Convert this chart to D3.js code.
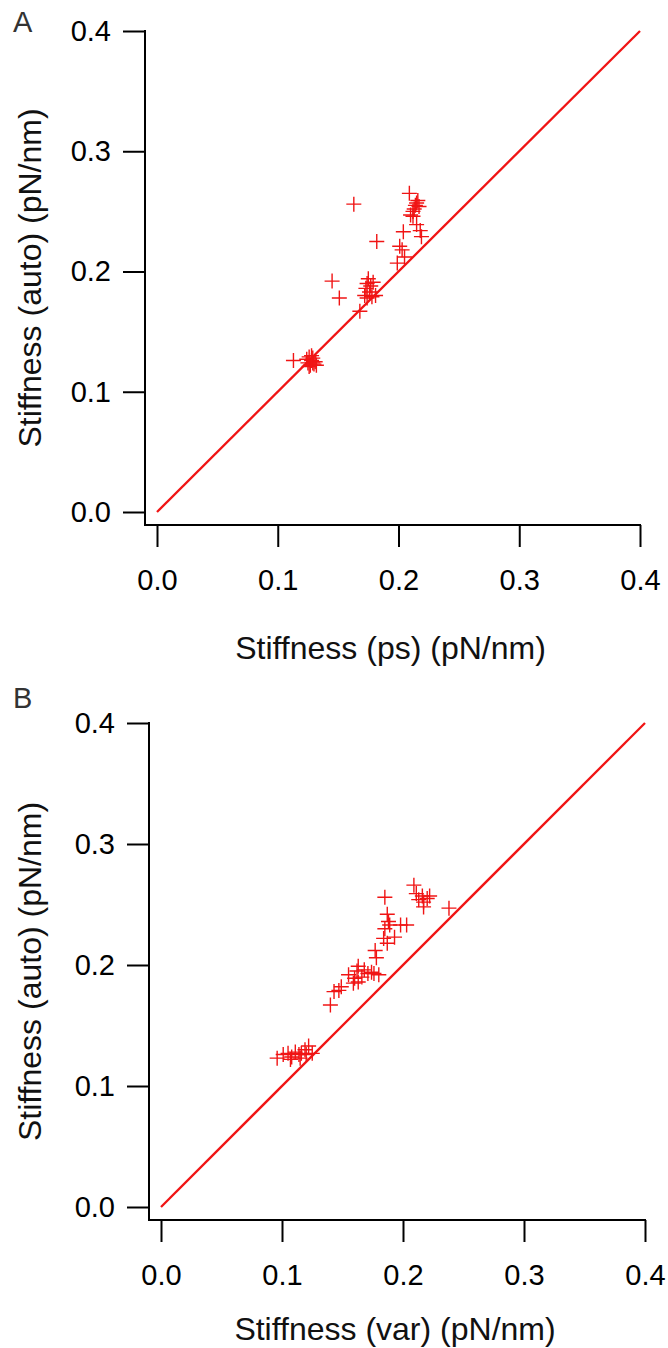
<!DOCTYPE html>
<html>
<head>
<meta charset="utf-8">
<script src="https://cdn.jsdelivr.net/npm/d3@7"></script>
<style>
  body { margin: 0; background: #fff; }
  svg text { font-family: "Liberation Sans", Arial, sans-serif; }
</style>
</head>
<body>
<svg id="chart" width="668" height="1348"></svg>
<script>
var width = 668, height = 1348;

// panel A : ps vs auto
var psX = [0.113,0.124,0.125,0.126,0.127,0.128,0.129,0.130,0.128,0.131,0.132,0.126,0.129,
  0.145,0.151,0.163,0.168,
  0.172,0.173,0.174,0.175,0.176,0.177,0.178,0.174,0.179,0.181,
  0.182,0.199,0.201,0.203,0.205,0.204,
  0.209,0.210,0.212,0.213,0.214,0.215,0.216,0.217,0.215,0.218,0.219,0.212];
var psY = [0.126,0.127,0.124,0.129,0.122,0.126,0.128,0.123,0.130,0.125,0.122,0.121,0.124,
  0.192,0.178,0.256,0.167,
  0.180,0.186,0.190,0.194,0.183,0.188,0.179,0.178,0.191,0.180,
  0.225,0.207,0.221,0.218,0.212,0.233,
  0.265,0.247,0.246,0.252,0.255,0.257,0.259,0.254,0.239,0.234,0.229,0.250];

// panel B : var vs auto
var varX = [0.096,0.101,0.105,0.108,0.111,0.114,0.116,0.119,0.122,0.120,0.107,0.115,0.125,
  0.140,0.143,0.147,0.149,0.155,0.159,0.160,0.163,0.163,0.166,0.171,0.174,0.180,
  0.162,0.168,0.176,0.178,0.177,0.184,0.187,0.193,
  0.185,0.189,0.188,0.187,0.198,0.203,
  0.185,0.209,0.211,0.216,0.220,0.217,0.213,0.217,0.222,0.238];
var varY = [0.123,0.126,0.127,0.124,0.128,0.126,0.127,0.130,0.133,0.126,0.122,0.123,0.127,
  0.167,0.178,0.179,0.182,0.192,0.185,0.189,0.199,0.186,0.190,0.193,0.194,0.192,
  0.195,0.196,0.193,0.206,0.212,0.222,0.218,0.223,
  0.230,0.233,0.236,0.242,0.233,0.233,
  0.256,0.266,0.259,0.257,0.255,0.252,0.254,0.248,0.257,0.247];

var tickValues = [0.0, 0.1, 0.2, 0.3, 0.4];
var tickLabels = ["0.0", "0.1", "0.2", "0.3", "0.4"];

var svg = d3.select("#chart");
var red = "#f01414";

function drawPanel(xs, ys, opt) {
  var g = svg.append("g");

  var x = d3.scaleLinear().domain([0, 0.4]).range([opt.left, opt.right]);
  var y = d3.scaleLinear().domain([0, 0.4]).range([opt.bottom, opt.top]);
  var axisX = opt.left - 12,   // y axis line sits a bit left of 0
      axisY = opt.bottom + 13; // x axis line sits a bit below 0

  // y axis
  var yAxis = d3.axisLeft(y).tickValues(tickValues)
      .tickFormat(function(d, i) { return tickLabels[i]; })
      .tickSize(22).tickSizeOuter(0).tickPadding(12);
  var yg = g.append("g").attr("transform", "translate(" + axisX + ",0)").call(yAxis);
  yg.select(".domain").remove();
  yg.selectAll("line").attr("stroke", "#000").attr("stroke-width", 2);
  yg.selectAll("text").style("font-size", "29px").attr("fill", "#000");
  g.append("line")
    .attr("x1", axisX).attr("x2", axisX)
    .attr("y1", y(0.4) - 1).attr("y2", axisY + 1)
    .attr("stroke", "#000").attr("stroke-width", 2);

  // x axis
  var xAxis = d3.axisBottom(x).tickValues(tickValues)
      .tickFormat(function(d, i) { return tickLabels[i]; })
      .tickSize(22).tickSizeOuter(0).tickPadding(22);
  var xg = g.append("g").attr("transform", "translate(0," + axisY + ")").call(xAxis);
  xg.select(".domain").remove();
  xg.selectAll("line").attr("stroke", "#000").attr("stroke-width", 2);
  xg.selectAll("text").style("font-size", "29px").attr("fill", "#000");
  g.append("line")
    .attr("x1", axisX - 1).attr("x2", x(0.4) + 1)
    .attr("y1", axisY).attr("y2", axisY)
    .attr("stroke", "#000").attr("stroke-width", 2);

  // identity line
  g.append("line")
    .attr("x1", x(0)).attr("y1", y(0))
    .attr("x2", x(0.4)).attr("y2", y(0.4))
    .attr("stroke", red).attr("stroke-width", 2.3);

  // points
  var pts = xs.map(function(d, i) { return [d, ys[i]]; });
  g.selectAll("path.pt")
    .data(pts)
    .enter().append("path")
      .attr("class", "pt")
      .attr("d", "M-7.5,0H7.5M0,-7.5V7.5")
      .attr("transform", function(d) { return "translate(" + x(d[0]) + "," + y(d[1]) + ")"; })
      .attr("fill", "none")
      .attr("stroke", red)
      .attr("stroke-width", 1.4);

  // titles
  g.append("text")
    .attr("x", (opt.left + opt.right) / 2 - 8)
    .attr("y", axisY + opt.xTitleOff)
    .attr("text-anchor", "middle")
    .style("font-size", "32px")
    .attr("fill", "#111")
    .text(opt.xTitle);

  g.append("text")
    .attr("transform", "translate(41," + ((opt.top + axisY) / 2) + ") rotate(-90)")
    .attr("text-anchor", "middle")
    .style("font-size", "32px")
    .attr("fill", "#111")
    .text("Stiffness (auto) (pN/nm)");

  g.append("text")
    .attr("x", 13).attr("y", opt.letterY)
    .style("font-size", "29px")
    .attr("fill", "#333")
    .text(opt.letter);
}

drawPanel(psX, psY, { left: 157, right: 640, top: 31, bottom: 512,
  xTitle: "Stiffness (ps) (pN/nm)", letter: "A", letterY: 32, xTitleOff: 134 });
drawPanel(varX, varY, { left: 161, right: 645, top: 723, bottom: 1207,
  xTitle: "Stiffness (var) (pN/nm)", letter: "B", letterY: 708, xTitleOff: 120 });
</script>
</body>
</html>
